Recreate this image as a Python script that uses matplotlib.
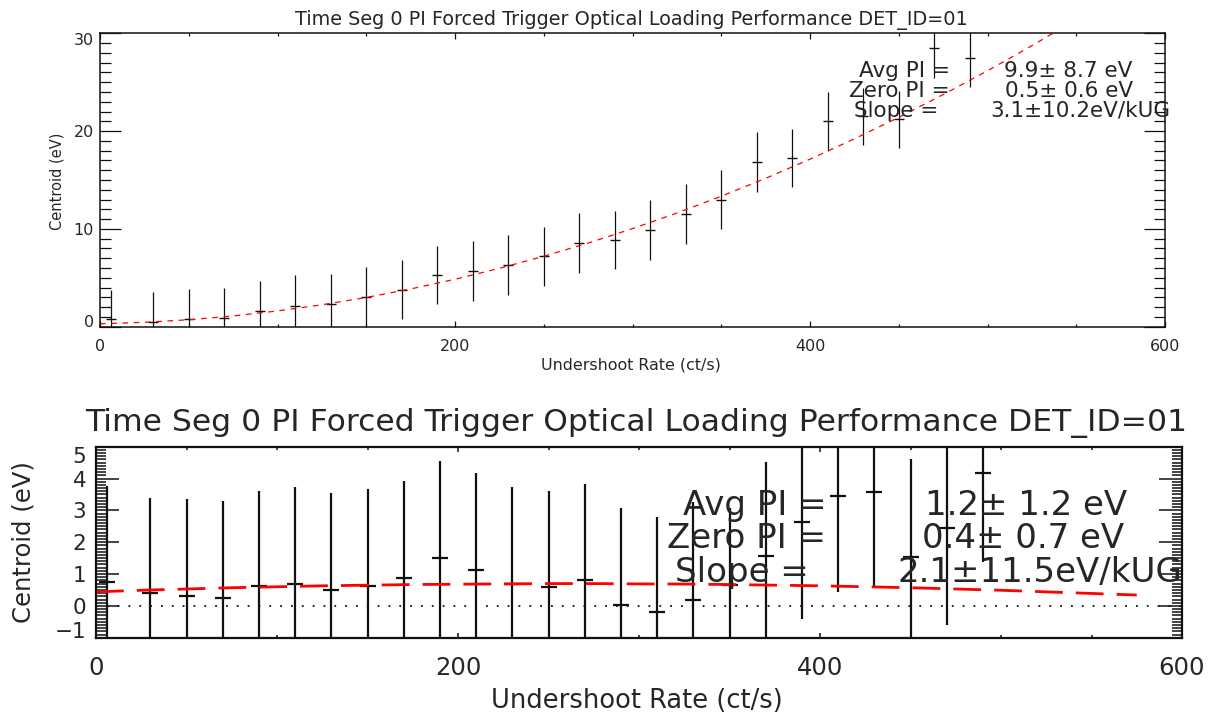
import matplotlib
matplotlib.use("Agg")
import matplotlib.pyplot as plt
from matplotlib.ticker import MultipleLocator

# ---------------- data ----------------
title = "Time Seg 0 PI Forced Trigger Optical Loading Performance DET_ID=01"
x_label = "Undershoot Rate (ct/s)"
y_label = "Centroid (eV)"

rate = [6, 30, 50, 70, 90, 110, 130, 150, 170, 190, 210, 230, 250,
        270, 290, 310, 330, 350, 370, 390, 410, 430, 450, 470, 490]

# upper panel
top_centroid = [0.75, 0.50, 0.78, 0.90, 1.60, 2.15, 2.30, 3.07, 3.80, 5.30,
                5.67, 6.28, 7.20, 8.57, 8.86, 9.89, 11.49, 13.00, 16.84, 17.25,
                21.00, 21.50, 21.20, 28.50, 27.50]
top_err = [3.05, 3.05, 3.05, 3.10, 3.10, 3.10, 3.05, 3.05, 3.00, 2.95,
           3.05, 3.05, 3.00, 3.05, 3.00, 3.05, 3.05, 3.00, 3.05, 3.00,
           3.00, 2.90, 2.95, 3.10, 3.00]
top_fit_x = [0, 25, 50, 75, 100, 125, 150, 175, 200, 225, 250, 275, 300,
             325, 350, 375, 400, 425, 450, 475, 500, 525, 550]
top_fit_y = [0.30, 0.45, 0.71, 1.10, 1.61, 2.24, 2.99, 3.86, 4.85, 5.97, 7.20,
             8.55, 10.03, 11.62, 13.34, 15.17, 17.13, 19.21, 21.41, 23.73,
             26.17, 28.73, 31.41]
top_stat_labels = ["Avg PI =", "Zero PI =", "Slope ="]
top_stat_values = ["9.9\u00b1 8.7 eV", "0.5\u00b1 0.6 eV", "3.1\u00b110.2eV/kUG"]

# lower panel
bot_centroid = [0.75, 0.39, 0.30, 0.25, 0.63, 0.70, 0.51, 0.63, 0.89, 1.51,
                1.12, 0.70, 0.58, 0.82, 0.04, -0.18, 0.20, 0.64, 1.57, 2.65,
                3.45, 3.58, 1.55, 2.45, 4.16]
bot_err = [3.00, 3.01, 3.05, 3.04, 2.97, 3.02, 3.02, 3.03, 3.03, 3.03,
           3.05, 3.02, 3.02, 3.02, 3.05, 2.97, 3.07, 2.43, 2.95, 3.05,
           3.01, 3.01, 3.05, 3.06, 2.78]
bot_fit_x = [0, 25, 50, 75, 100, 125, 150, 175, 200, 225, 250, 275, 300,
             325, 350, 375, 400, 425, 450, 475, 500, 525, 550, 575]
bot_fit_y = [0.44, 0.49, 0.53, 0.57, 0.60, 0.63, 0.65, 0.67, 0.68, 0.69,
             0.70, 0.70, 0.69, 0.685, 0.67, 0.65, 0.63, 0.60, 0.57, 0.53,
             0.49, 0.44, 0.39, 0.34]
bot_zero_x = [0, 600]
bot_zero_y = [0, 0]
bot_stat_labels = ["Avg PI =", "Zero PI =", "Slope ="]
bot_stat_values = ["1.2\u00b1 1.2 eV", "0.4\u00b1 0.7 eV", "2.1\u00b111.5eV/kUG"]

x_ticks = [0, 200, 400, 600]
top_y_ticks = [0, 10, 20, 30]
bot_y_ticks = [-1, 0, 1, 2, 3, 4, 5]

# ---------------- layout ----------------
W, H = 1212, 715
plt.rcParams["font.family"] = ["DejaVu Sans"]
TXT = "#262626"
LINE = "#111111"

fig = plt.figure(figsize=(W / 100, H / 100), dpi=100)


def fx(px):
    return px / W


def fy(py):
    return 1 - py / H


def style_axes(ax, xmaj, xmin, ymaj, ymin, tw, lw, xlsize, ylsize, xpad, ypad):
    for s in ax.spines.values():
        s.set_linewidth(lw)
        s.set_color(LINE)
    ax.tick_params(axis="both", which="both", direction="in", top=True,
                   right=True, color=LINE, width=tw, labelcolor=TXT)
    ax.tick_params(axis="x", which="major", length=xmaj, labelsize=xlsize, pad=xpad)
    ax.tick_params(axis="x", which="minor", length=xmin)
    ax.tick_params(axis="y", which="major", length=ymaj, labelsize=ylsize, pad=ypad)
    ax.tick_params(axis="y", which="minor", length=ymin)


# ---- upper panel ----
ax1 = fig.add_axes([fx(100), fy(326.7), (1165 - 100) / W, (326.7 - 33.3) / H])
ax1.set_xlim(0, 600)
ax1.set_ylim(0, 30)
ax1.errorbar(rate, top_centroid, yerr=top_err, fmt="none", ecolor=LINE,
             elinewidth=0.9, capsize=0)
ax1.plot(rate, top_centroid, ls="none", marker="_", ms=6.5, mew=1.0, color=LINE)
ax1.plot(top_fit_x, top_fit_y, color="red", lw=0.9, dashes=(4.5, 4.5))
ax1.set_xticks(x_ticks)
ax1.set_xticklabels([str(v) for v in x_ticks])
ax1.set_yticks(top_y_ticks)
ax1.set_yticklabels([str(v) for v in top_y_ticks])
ax1.xaxis.set_minor_locator(MultipleLocator(50))
ax1.yaxis.set_minor_locator(MultipleLocator(1))
style_axes(ax1, 4.3, 2.2, 15, 8, 0.9, 1.1, 11.5, 11.5, 9, 4.5)
ylabs = ax1.get_yticklabels()
ylabs[0].set_va("baseline")
ylabs[-1].set_va("top")

fig.text(fx(631), fy(25), title, ha="center", va="baseline", fontsize=13.9, color=TXT)
fig.text(fx(631), fy(369), x_label, ha="center", va="baseline", fontsize=11.4, color=TXT)
fig.text(fx(57), fy(181), y_label, ha="center", va="center", rotation=90,
         fontsize=10.5, color=TXT)

top_lab_x = [858.6, 849, 854]
top_val_x = [1004, 1005, 990.6]
top_base = [77, 97, 117]
for lab, val, lx, vx, by in zip(top_stat_labels, top_stat_values, top_lab_x,
                                top_val_x, top_base):
    fig.text(fx(lx), fy(by), lab, ha="left", va="baseline", fontsize=15.5, color=TXT)
    fig.text(fx(vx), fy(by), val, ha="left", va="baseline", fontsize=15.5, color=TXT)

# ---- lower panel ----
ax2 = fig.add_axes([fx(96), fy(637.7), 1086 / W, 191 / H])
ax2.set_xlim(0, 600)
ax2.set_ylim(-1, 5)
ax2.plot(bot_zero_x, bot_zero_y, color=LINE, lw=1.3, ls=(0, (1, 5)))
ax2.errorbar(rate, bot_centroid, yerr=bot_err, fmt="none", ecolor=LINE,
             elinewidth=1.6, capsize=0)
ax2.plot(rate, bot_centroid, ls="none", marker="_", ms=11, mew=1.6, color=LINE)
ax2.plot(bot_fit_x, bot_fit_y, color="red", lw=2.0, dashes=(10, 4.7))
ax2.set_xticks(x_ticks)
ax2.set_xticklabels([str(v) for v in x_ticks])
ax2.set_yticks(bot_y_ticks)
ax2.set_yticklabels(["\u22121" if v == -1 else str(v) for v in bot_y_ticks])
ax2.xaxis.set_minor_locator(MultipleLocator(50))
ax2.yaxis.set_minor_locator(MultipleLocator(0.1))
style_axes(ax2, 3.6, 2.2, 16.5, 7.2, 1.1, 1.6, 17.5, 15.5, 13.5, 7)
ylabs2 = ax2.get_yticklabels()
ylabs2[0].set_va("baseline")
ylabs2[-1].set_va("top")

fig.text(fx(636), fy(430.7), title, ha="center", va="baseline", fontsize=22.6, color=TXT)
fig.text(fx(637), fy(708), x_label, ha="center", va="baseline", fontsize=18.5, color=TXT)
fig.text(fx(24), fy(542.5), y_label, ha="center", va="center", rotation=90,
         fontsize=17.5, color=TXT)

bot_lab_x = [683.3, 666.7, 675]
bot_val_x = [925, 921.7, 898]
bot_base = [515, 548.3, 581.7]
for lab, val, lx, vx, by in zip(bot_stat_labels, bot_stat_values, bot_lab_x,
                                bot_val_x, bot_base):
    fig.text(fx(lx), fy(by), lab, ha="left", va="baseline", fontsize=24.5, color=TXT)
    fig.text(fx(vx), fy(by), val, ha="left", va="baseline", fontsize=24.5, color=TXT)

fig.savefig("out.png", dpi=100)
